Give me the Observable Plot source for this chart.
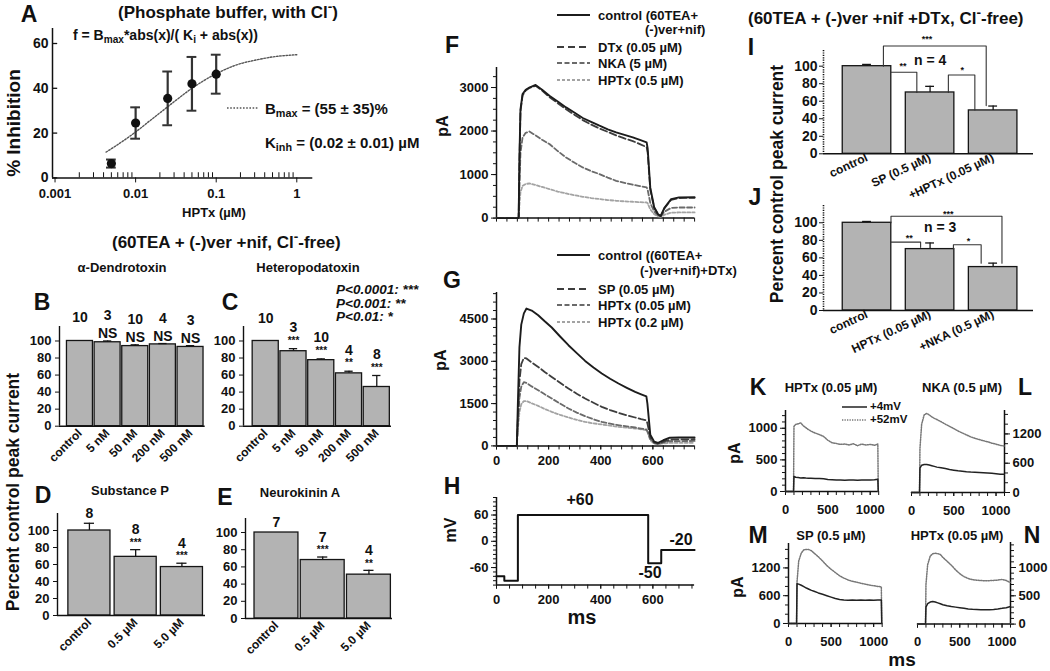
<!DOCTYPE html>
<html>
<head>
<meta charset="utf-8">
<script src="https://cdn.jsdelivr.net/npm/d3@7"></script>
<script src="https://cdn.jsdelivr.net/npm/@observablehq/plot@0.6"></script>
<style>
html,body{margin:0;padding:0;background:#fff;}
#fig{position:relative;width:1050px;height:671px;overflow:hidden;background:#fff;
 font-family:"Liberation Sans",Arial,Helvetica,sans-serif;font-weight:bold;color:#111;}
.t{position:absolute;white-space:nowrap;line-height:1;}
.t sub{font-size:0.72em;vertical-align:-0.28em;line-height:0;}
.t sup{font-size:0.8em;vertical-align:0.5em;line-height:0;}
</style>
</head>
<body>
<div id="fig"></div>
<script>
// ======================= DATA =======================
// Panel A : % inhibition vs HPTx concentration
const A_conc = [0.005, 0.01, 0.025, 0.05, 0.1];
const A_inhibition = [6.4, 24.5, 35.5, 42, 46.3];
const A_sem = [1.8, 7, 12, 12, 8.7];
const A_fitConc = [0.0043, 0.007, 0.01, 0.015, 0.02, 0.03, 0.05, 0.1, 0.2, 0.3, 0.5, 1];
const A_fitInh = [11.5, 16.5, 20.5, 25.5, 29, 34, 40, 46.5, 51, 52.5, 54, 55];
const A_xTicks = [0.001, 0.01, 0.1, 1];
const A_yTicks = [0, 20, 40, 60];

// Panels B-E : percent control peak current
const BC_cats = ["control", "5 nM", "50 nM", "200 nM", "500 nM"];
const B_pct = [100, 98.5, 94, 96, 93];
const B_sem = [0, 1.5, 1.5, 1, 1.5];
const B_n = ["10", "3", "10", "4", "3"];
const B_sig = ["", "NS", "NS", "NS", "NS"];
const C_pct = [100, 88, 77.5, 62, 46];
const C_sem = [0, 3, 1.5, 2.5, 13.5];
const C_n = ["10", "3", "10", "4", "8"];
const C_sig = ["", "***", "***", "**", "***"];
const DE_cats = ["control", "0.5 µM", "5.0 µM"];
const D_pct = [100, 69, 57];
const D_sem = [8.5, 8.5, 4.5];
const D_n = ["8", "8", "4"];
const D_sig = ["", "***", "***"];
const E_pct = [100, 68, 51];
const E_sem = [0, 3.5, 5];
const E_n = ["7", "7", "4"];
const E_sig = ["", "***", "**"];
const pctTicks = [0, 20, 40, 60, 80, 100];
const pValueKey = ["P<0.0001: ***", "P<0.001: **", "P<0.01: *"];

// Panels I, J
const I_cats = ["control", "SP (0.5 µM)", "+HPTx (0.05 µM)"];
const I_pct = [100, 70, 49.5];
const I_sem = [2, 7, 5];
const J_cats = ["control", "HPTx (0.05 µM)", "+NKA (0.5 µM)"];
const J_pct = [100, 70, 49.5];
const J_sem = [1.5, 7, 4.5];

// Panel F : current traces (pA) vs time (ms)
const F_t = [0, 85, 88, 92, 100, 112, 126, 150, 175, 203, 235, 267, 300, 331, 363, 395, 427, 459, 491, 523, 550, 576, 580, 590, 605, 620, 630, 645, 670, 700, 760];
const F_control = [0, 0, 1400, 2500, 2850, 2950, 3000, 3060, 2950, 2810, 2680, 2543, 2420, 2300, 2210, 2122, 2040, 1968, 1910, 1853, 1795, 1740, 1600, 700, 250, 90, 50, 244, 437, 475, 480];
const F_DTx = [0, 0, 1300, 2450, 2820, 2930, 2990, 3040, 2930, 2780, 2640, 2500, 2370, 2250, 2150, 2060, 1980, 1900, 1830, 1770, 1700, 1630, 1500, 650, 230, 80, 45, 230, 420, 460, 465];
const F_NKA = [0, 0, 700, 1500, 1850, 1960, 1990, 1900, 1800, 1701, 1540, 1393, 1270, 1163, 1080, 1011, 930, 857, 810, 766, 735, 704, 650, 350, 150, 60, 40, 150, 235, 244, 244];
const F_HPTx = [0, 0, 300, 600, 740, 785, 795, 760, 715, 667, 610, 566, 525, 490, 460, 437, 415, 398, 385, 375, 365, 359, 340, 200, 90, 40, 30, 80, 125, 130, 130];

// Panel G
const G_t = [0, 78, 82, 88, 95, 105, 115, 135, 160, 185, 212, 244, 276, 308, 340, 372, 404, 436, 468, 500, 532, 555, 575, 579, 590, 605, 620, 640, 665, 700, 760];
const G_control = [0, 0, 1500, 3500, 4300, 4700, 4870, 4800, 4635, 4420, 4199, 3880, 3571, 3290, 3014, 2780, 2567, 2380, 2213, 2060, 1915, 1830, 1760, 1500, 400, 150, 110, 200, 290, 300, 300];
const G_SP = [0, 0, 1000, 2300, 2900, 3120, 3100, 2960, 2801, 2620, 2447, 2240, 2035, 1850, 1681, 1530, 1383, 1270, 1170, 1085, 1007, 950, 905, 800, 300, 120, 80, 150, 220, 230, 235];
const G_HPTx005 = [0, 0, 800, 1700, 2100, 2260, 2230, 2110, 1975, 1830, 1681, 1500, 1326, 1180, 1053, 945, 851, 790, 734, 690, 652, 615, 582, 520, 250, 100, 70, 120, 165, 170, 175];
const G_HPTx02 = [0, 0, 600, 1200, 1480, 1590, 1590, 1510, 1418, 1310, 1206, 1100, 1007, 925, 851, 800, 759, 715, 674, 645, 617, 590, 560, 500, 200, 80, 60, 90, 105, 110, 110];

// Panel H : voltage protocol
const H_t = [0, 30, 82, 582, 632, 760];
const H_mV = [-80, -90, 60, -50, -20, -20];

// Panels K-N : +4 mV and +52 mV traces
const KN_t = [0, 95, 100, 120, 150, 180, 210, 240, 270, 300, 350, 400, 450, 500, 550, 600, 650, 700, 750, 800, 850, 900, 950, 1000, 1050, 1090, 1095];
const K_p4 = [0, 0, 240, 225, 220, 215, 218, 212, 210, 208, 205, 207, 200, 190, 185, 180, 182, 178, 180, 182, 178, 180, 182, 180, 185, 195, 0];
const K_p52 = [0, 0, 1030, 1060, 1070, 1085, 1040, 1010, 980, 955, 925, 900, 870, 810, 770, 760, 745, 750, 735, 755, 725, 750, 735, 745, 730, 750, 0];
const L_p4 = [0, 0, 500, 560, 575, 575, 565, 550, 535, 520, 505, 490, 470, 458, 445, 435, 425, 418, 415, 410, 405, 400, 392, 385, 375, 372, 372];
const L_p52 = [0, 0, 900, 1400, 1590, 1620, 1590, 1550, 1520, 1495, 1450, 1400, 1355, 1310, 1260, 1220, 1180, 1140, 1110, 1085, 1060, 1040, 1010, 990, 965, 955, 955];
const M_p4 = [0, 0, 860, 850, 825, 795, 765, 740, 715, 695, 660, 630, 600, 570, 540, 520, 505, 500, 505, 500, 505, 500, 505, 500, 505, 505, 0];
const M_p52 = [0, 0, 900, 1350, 1520, 1590, 1600, 1595, 1570, 1520, 1440, 1350, 1250, 1170, 1100, 1030, 980, 940, 910, 890, 870, 850, 830, 815, 800, 790, 0];
const N_p4 = [0, 0, 300, 360, 390, 400, 390, 375, 360, 343, 325, 310, 300, 290, 280, 268, 262, 258, 255, 253, 255, 260, 268, 278, 290, 305, 305];
const N_p52 = [0, 0, 700, 1050, 1200, 1245, 1250, 1245, 1230, 1180, 1110, 1040, 960, 890, 840, 805, 785, 775, 770, 765, 768, 772, 778, 790, 770, 740, 740];

// ======================= HELPERS =======================
const FONT = '"Liberation Sans", Arial, Helvetica, sans-serif';
const fig = document.getElementById("fig");
const plain = d => String(d);

function txt(html, x, y, o = {}) {
  const d = document.createElement("div");
  d.className = "t";
  d.innerHTML = html;
  d.style.fontSize = (o.size || 13) + "px";
  if (o.italic) d.style.fontStyle = "italic";
  d.style.left = x + "px";
  d.style.top = y + "px";
  const ax = o.anchor === "start" ? "0%" : o.anchor === "end" ? "-100%" : "-50%";
  d.style.transform = `translate(${ax},-50%)` + (o.rotate ? ` rotate(${o.rotate}deg)` : "");
  fig.appendChild(d);
}
function swatch(x1, x2, y, color, dash, w) {
  const d = document.createElement("div");
  d.style.position = "absolute";
  d.style.left = x1 + "px";
  d.style.top = (y - 3) + "px";
  const L = x2 - x1;
  d.innerHTML = `<svg width="${L}" height="6" style="display:block"><line x1="0" x2="${L}" y1="3" y2="3" stroke="${color}" stroke-width="${w || 1.7}" ${dash ? `stroke-dasharray="${dash}"` : ""}/></svg>`;
  fig.appendChild(d);
}
function panel(box, m, fs, opts) {
  const [mt, mr, mb, ml] = m;
  const el = Plot.plot({
    width: box.x1 - box.x0 + ml + mr,
    height: box.y1 - box.y0 + mt + mb,
    marginTop: mt, marginRight: mr, marginBottom: mb, marginLeft: ml,
    style: {background: "none", overflow: "visible", fontFamily: FONT, fontWeight: "bold", fontSize: fs + "px", color: "#111"},
    ...opts
  });
  el.style.position = "absolute";
  el.style.left = (box.x0 - ml) + "px";
  el.style.top = (box.y0 - mt) + "px";
  el.style.maxWidth = "none";
  fig.appendChild(el);
  return el;
}

function bars(o) {
  const rows = o.pct.map((v, i) => ({i, v, e: o.sem[i], top: v + o.sem[i], n: o.n ? o.n[i] : "", s: o.sig ? o.sig[i] : ""}));
  const hw = o.w / 2, eb = rows.filter(d => d.e > 0);
  const marks = [
    Plot.rectY(rows, {x1: d => d.i - hw, x2: d => d.i + hw, y1: 0, y2: "v", fill: "#b3b3b3", stroke: "#151515", strokeWidth: 1.3}),
    Plot.ruleX(eb, {x: "i", y1: "v", y2: "top", stroke: "#151515", strokeWidth: 1.3}),
    Plot.ruleY(eb, {y: "top", x1: d => d.i - o.cap, x2: d => d.i + o.cap, stroke: "#151515", strokeWidth: 1.3}),
    Plot.ruleX([o.xDom[0]], {stroke: "#111", strokeWidth: o.yDash ? 1.6 : 1.4, strokeDasharray: o.yDash || null}),
    Plot.ruleY([0], {stroke: "#111", strokeWidth: 1.5}),
    Plot.axisY({ticks: pctTicks, tickSize: 4, tickPadding: o.yPad ?? 4, label: null}),
    Plot.axisX({ticks: rows.map(d => d.i), tickFormat: i => o.cats[i], tickRotate: o.rot, tickSize: 0, tickPadding: o.catPad, label: null, fontSize: o.catSize})
  ];
  if (o.n) {
    const withS = rows.filter(d => d.s), noS = rows.filter(d => !d.s);
    marks.push(Plot.text(withS, {x: "i", y: "top", text: "n", dy: o.nDy, fontSize: 14}));
    marks.push(Plot.text(noS, {x: "i", y: "top", text: "n", dy: o.nDy0, fontSize: 14}));
    marks.push(Plot.text(withS, {x: "i", y: "top", text: "s", dy: o.sDy, fontSize: o.sSize}));
  }
  return panel(o.box, o.m || [5, 5, 60, 40], o.fs || 13, {
    x: {domain: o.xDom}, y: {domain: [0, o.yMax]},
    marks: marks.concat(o.extra || [])
  });
}

function traces(o) {
  const marks = [
    Plot.ruleX([o.yRight ? o.xDom[1] : o.xDom[0]], {stroke: "#111", strokeWidth: 1.5}),
    Plot.ruleY([o.yDom[0]], {stroke: "#111", strokeWidth: 1.5}),
    Plot.axisY({anchor: o.yRight ? "right" : "left", ticks: o.yTicks, tickFormat: plain, tickSize: 5, tickPadding: 3, label: null}),
    Plot.axisY({anchor: o.yRight ? "right" : "left", ticks: o.yMinor, tickSize: 3, tickFormat: () => "", label: null}),
    Plot.axisX({ticks: o.xMinor, tickSize: 4, tickFormat: () => "", label: null})
  ];
  if (o.xLabels) marks.push(Plot.axisX({ticks: o.xLabels, tickFormat: plain, tickSize: 4, tickPadding: o.xPad, label: null}));
  for (const s of o.series) {
    marks.push(Plot.line(o.t.map((t, i) => ({t, v: s.v[i]})), {
      x: "t", y: "v", stroke: s.stroke, strokeWidth: s.w || 1.6, strokeDasharray: s.dash || null, strokeLinejoin: "round"
    }));
  }
  return panel(o.box, o.yRight ? [5, 45, 30, 5] : [5, 5, 30, 45], o.fs || 13, {
    x: {domain: o.xDom}, y: {domain: o.yDom}, marks
  });
}

// ======================= PANEL A =======================
{
  const pts = A_conc.map((x, i) => ({x, y: A_inhibition[i], e: A_sem[i]}));
  const fit = A_fitConc.map((x, i) => ({x, y: A_fitInh[i]}));
  const minors = [];
  for (const dec of [0.001, 0.01, 0.1]) for (let k = 2; k <= 9; k++) minors.push(dec * k);
  const x0 = 0.00093;
  panel({x0: 51.7, x1: 312, y0: 28.3, y1: 177.7}, [5, 5, 30, 40], 13, {
    x: {type: "log", domain: [x0, 1.58]},
    y: {domain: [0, 66.7]},
    marks: [
      Plot.ruleX([x0], {stroke: "#111", strokeWidth: 1.5}),
      Plot.ruleY([0], {stroke: "#111", strokeWidth: 1.5}),
      Plot.axisY({ticks: A_yTicks, tickSize: 0, tickPadding: 4, label: null, fontSize: 14}),
      Plot.ruleY(A_yTicks, {x1: x0, x2: x0 * 1.16, stroke: "#111", strokeWidth: 1.3}),
      Plot.axisX({ticks: A_xTicks, tickFormat: plain, tickSize: 5, tickPadding: 6, label: null}),
      Plot.ruleX(minors, {y1: 0, y2: 2.3, stroke: "#111", strokeWidth: 1}),
      Plot.line(fit, {x: "x", y: "y", stroke: "#555", strokeWidth: 1.4, strokeDasharray: "1.6,1.6", curve: "monotone-x"}),
      Plot.ruleX(pts, {x: "x", y1: d => d.y - d.e, y2: d => d.y + d.e, stroke: "#333", strokeWidth: 2.2}),
      Plot.ruleY(pts, {y: d => d.y + d.e, x1: d => d.x / 1.15, x2: d => d.x * 1.15, stroke: "#333", strokeWidth: 2}),
      Plot.ruleY(pts, {y: d => d.y - d.e, x1: d => d.x / 1.15, x2: d => d.x * 1.15, stroke: "#333", strokeWidth: 2}),
      Plot.dot(pts, {x: "x", y: "y", r: 4.6, fill: "#111", stroke: "none"})
    ]
  });
  txt("A", 29, 14, {size: 23});
  txt("(Phosphate buffer, with Cl<sup>-</sup>)", 118, 12, {size: 17, anchor: "start"});
  txt("f = B<sub>max</sub>*abs(x)/( K<sub>i</sub> + abs(x))", 73, 35, {size: 14, anchor: "start"});
  swatch(227, 258, 107.5, "#555", "1.6,1.6", 1.4);
  txt("B<sub>max</sub> = (55 ± 35)%", 265, 108, {size: 15, anchor: "start"});
  txt("K<sub>inh</sub> = (0.02 ± 0.01) µM", 265, 142, {size: 15, anchor: "start"});
  txt("HPTx (µM)", 214, 212, {size: 13});
  txt("% Inhibition", 13, 123, {size: 19, rotate: -90});
}

// ======================= PANELS B-E =======================
txt("(60TEA + (-)ver +nif, Cl<sup>-</sup>-free)", 112, 242, {size: 17, anchor: "start"});
txt("α-Dendrotoxin", 122, 267, {size: 13});
txt("Heteropodatoxin", 308, 267, {size: 13});
txt("B", 42, 302, {size: 23});
txt("C", 230, 302, {size: 23});
pValueKey.forEach((s, i) => txt(s, 336, [290, 303.5, 317][i], {size: 13.5, italic: true, anchor: "start"}));

bars({box: {x0: 59.3, x1: 205, y0: 326, y1: 425.7}, xDom: [-0.74, 4.53], yMax: 117,
  pct: B_pct, sem: B_sem, n: B_n, sig: B_sig, cats: BC_cats, w: 0.94, cap: 0.15,
  rot: -45, catPad: 5, catSize: 12, nDy: -25, nDy0: -23, sDy: -7, sSize: 14});
bars({box: {x0: 243, x1: 391, y0: 326, y1: 425.7}, xDom: [-0.8, 4.53], yMax: 117,
  pct: C_pct, sem: C_sem, n: C_n, sig: C_sig, cats: BC_cats, w: 0.94, cap: 0.15,
  rot: -45, catPad: 5, catSize: 12, nDy: -21, nDy0: -22, sDy: -8, sSize: 10});

txt("D", 43, 495, {size: 23});
txt("Substance P", 130, 490, {size: 13});
txt("E", 225, 497, {size: 23});
txt("Neurokinin A", 300, 492, {size: 13});
bars({box: {x0: 57, x1: 205, y0: 513, y1: 615}, xDom: [-0.69, 2.51], yMax: 120,
  pct: D_pct, sem: D_sem, n: D_n, sig: D_sig, cats: DE_cats, w: 0.91, cap: 0.11,
  rot: -45, catPad: 5, catSize: 12, nDy: -20, nDy0: -10, sDy: -7, sSize: 10});
bars({box: {x0: 245, x1: 392, y0: 518, y1: 618}, xDom: [-0.67, 2.51], yMax: 116.3,
  pct: E_pct, sem: E_sem, n: E_n, sig: E_sig, cats: DE_cats, w: 0.95, cap: 0.11,
  rot: -45, catPad: 5, catSize: 12, nDy: -20, nDy0: -10, sDy: -7, sSize: 10});
txt("Percent control peak current", 14, 492, {size: 17.5, rotate: -90});

// ======================= PANEL F =======================
const msMinor = d3.range(0, 761, 40);
traces({box: {x0: 495.5, x1: 693.6, y0: 66.7, y1: 217.3}, xDom: [0, 760], yDom: [0, 3460], t: F_t,
  yTicks: [0, 1000, 2000, 3000], yMinor: d3.range(0, 3460, 250), xMinor: msMinor,
  series: [
    {v: F_HPTx, stroke: "#a3a3a3", dash: "3,2", w: 1.8},
    {v: F_NKA, stroke: "#6a6a6a", dash: "5,2.5", w: 1.8},
    {v: F_DTx, stroke: "#3d3d3d", dash: "7,3", w: 1.8},
    {v: F_control, stroke: "#1c1c1c", w: 1.9}
  ]});
txt("F", 452, 45, {size: 23});
txt("pA", 443, 126, {size: 16, rotate: -90});
swatch(557, 590, 15, "#1c1c1c", null, 1.9);
txt("control (60TEA+", 598, 15, {size: 13, anchor: "start"});
txt("(-)ver+nif)", 645, 29, {size: 13, anchor: "start"});
swatch(557, 590, 47, "#3d3d3d", "7,4", 1.8);
txt("DTx (0.05 µM)", 598, 47, {size: 13, anchor: "start"});
swatch(557, 590, 62.5, "#6a6a6a", "5,2.5", 1.8);
txt("NKA (5 µM)", 598, 62.5, {size: 13, anchor: "start"});
swatch(557, 590, 80, "#a3a3a3", "3,2", 1.8);
txt("HPTx (0.5 µM)", 598, 80, {size: 13, anchor: "start"});

// ======================= PANEL G =======================
traces({box: {x0: 495.5, x1: 693.6, y0: 292.3, y1: 445.7}, xDom: [0, 760], yDom: [0, 5440], t: G_t,
  yTicks: [0, 1500, 3000, 4500], yMinor: d3.range(0, 5440, 300), xMinor: msMinor,
  xLabels: [0, 200, 400, 600], xPad: 6,
  series: [
    {v: G_HPTx02, stroke: "#a3a3a3", dash: "3,2", w: 1.8},
    {v: G_HPTx005, stroke: "#6a6a6a", dash: "5,2.5", w: 1.8},
    {v: G_SP, stroke: "#3d3d3d", dash: "7,3", w: 1.8},
    {v: G_control, stroke: "#1c1c1c", w: 1.9}
  ]});
txt("G", 452, 280, {size: 23});
txt("pA", 441, 360, {size: 16, rotate: -90});
swatch(557, 590, 255, "#1c1c1c", null, 1.9);
txt("control ((60TEA+", 598, 255, {size: 13, anchor: "start"});
txt("(-)ver+nif)+DTx)", 640, 270, {size: 13, anchor: "start"});
swatch(557, 590, 288.5, "#3d3d3d", "7,4", 1.8);
txt("SP (0.05 µM)", 598, 288.5, {size: 13, anchor: "start"});
swatch(557, 590, 305, "#6a6a6a", "5,2.5", 1.8);
txt("HPTx (0.05 µM)", 598, 305, {size: 13, anchor: "start"});
swatch(557, 590, 321.5, "#a3a3a3", "3,2", 1.8);
txt("HPTx (0.2 µM)", 598, 321.5, {size: 13, anchor: "start"});

// ======================= PANEL H =======================
traces({box: {x0: 495.5, x1: 693.6, y0: 496.7, y1: 584.3}, xDom: [0, 760], yDom: [-100, 100], t: H_t,
  yTicks: [-60, 0, 60], yMinor: d3.range(-100, 101, 10), xMinor: d3.range(0, 761, 50),
  xLabels: [0, 200, 400, 600], xPad: 6,
  series: [{v: H_mV, stroke: "none"}]});
panel({x0: 495.5, x1: 693.6, y0: 496.7, y1: 584.3}, [5, 5, 5, 5], 13, {
  x: {domain: [0, 760], axis: null}, y: {domain: [-100, 100], axis: null},
  marks: [Plot.line(H_t.map((t, i) => ({t, v: H_mV[i]})), {x: "t", y: "v", curve: "step-after", stroke: "#111", strokeWidth: 2})]
});
txt("H", 452, 486, {size: 23});
txt("mV", 451, 530, {size: 16, rotate: -90});
txt("ms", 582, 617, {size: 20});
txt("+60", 580, 500, {size: 16});
txt("-50", 650, 573, {size: 16});
txt("-20", 681, 540, {size: 16});

// ======================= PANELS I, J =======================
txt("(60TEA + (-)ver +nif +DTx, Cl<sup>-</sup>-free)", 748, 18, {size: 17, anchor: "start"});
txt("I", 751, 47, {size: 23});
txt("J", 755, 197, {size: 23});
txt("Percent control peak current", 778, 184, {size: 17.5, rotate: -90});
const brk = {stroke: "#333", strokeWidth: 1.1};
bars({box: {x0: 823, x1: 1033, y0: 50, y1: 153.3}, xDom: [-0.69, 2.64], yMax: 117.9,
  pct: I_pct, sem: I_sem, cats: I_cats, w: 0.77, cap: 0.07, rot: -25, catPad: 3, catSize: 12,
  fs: 14, yPad: 2, yDash: "1.2,1.2", m: [25, 5, 50, 40],
  extra: [
    Plot.line([[0.26, 100], [0.26, 123], [1.89, 123], [1.89, 55]], brk),
    Plot.line([[0.38, 93], [0.79, 93], [0.79, 70]], brk),
    Plot.line([[1.29, 70], [1.29, 90], [1.71, 90], [1.71, 50]], brk),
    Plot.text(["***"], {x: 0.95, y: 131, fontSize: 9}),
    Plot.text(["**"], {x: 0.57, y: 100, fontSize: 9}),
    Plot.text(["*"], {x: 1.51, y: 96, fontSize: 9}),
    Plot.text(["n = 4"], {x: 1.0, y: 106, fontSize: 14})
  ]});
bars({box: {x0: 823, x1: 1033, y0: 205, y1: 310}, xDom: [-0.69, 2.64], yMax: 119.7,
  pct: J_pct, sem: J_sem, cats: J_cats, w: 0.77, cap: 0.07, rot: -25, catPad: 3, catSize: 12,
  fs: 14, yPad: 2, yDash: "1.2,1.2", m: [15, 5, 50, 40],
  extra: [
    Plot.line([[0.38, 100], [0.38, 107.5], [2.14, 107.5], [2.14, 54]], brk),
    Plot.line([[0.38, 78], [0.85, 78], [0.85, 72]], brk),
    Plot.line([[1.37, 70], [1.37, 75], [1.81, 75], [1.81, 54]], brk),
    Plot.text(["***"], {x: 1.29, y: 110, fontSize: 9}),
    Plot.text(["**"], {x: 0.67, y: 82, fontSize: 9}),
    Plot.text(["*"], {x: 1.61, y: 79, fontSize: 9}),
    Plot.text(["n = 3"], {x: 1.16, y: 95, fontSize: 14})
  ]});

// ======================= PANELS K-N =======================
const knMinor = d3.range(0, 1101, 100);
const solid = v => ({v, stroke: "#222", w: 1.5});
const dotted = v => ({v, stroke: "#777", dash: "1.3,1.2", w: 1.5});
traces({box: {x0: 784.5, x1: 877.7, y0: 410, y1: 491}, xDom: [0, 1100], yDom: [0, 1281], t: KN_t,
  yTicks: [0, 500, 1000], yMinor: d3.range(0, 1281, 100), xMinor: knMinor, xLabels: [0, 500, 1000], xPad: 9,
  series: [dotted(K_p52), solid(K_p4)]});
traces({box: {x0: 911, x1: 1004, y0: 410, y1: 492}, xDom: [0, 1100], yDom: [0, 1680], t: KN_t, yRight: true,
  yTicks: [0, 600, 1200], yMinor: d3.range(0, 1680, 200), xMinor: knMinor, xLabels: [0, 500, 1000], xPad: 9,
  series: [dotted(L_p52), solid(L_p4)]});
traces({box: {x0: 788.3, x1: 882, y0: 543.3, y1: 623.3}, xDom: [0, 1100], yDom: [0, 1727], t: KN_t,
  yTicks: [0, 600, 1200], yMinor: d3.range(0, 1727, 200), xMinor: knMinor, xLabels: [0, 500, 1000], xPad: 9,
  series: [dotted(M_p52), solid(M_p4)]});
traces({box: {x0: 917, x1: 1010, y0: 541.7, y1: 623.3}, xDom: [0, 1100], yDom: [0, 1442], t: KN_t, yRight: true,
  yTicks: [0, 500, 1000], yMinor: d3.range(0, 1442, 100), xMinor: knMinor, xLabels: [0, 500, 1000], xPad: 9,
  series: [dotted(N_p52), solid(N_p4)]});
txt("K", 758, 387, {size: 23});
txt("HPTx (0.05 µM)", 831, 387, {size: 13});
txt("NKA (0.5 µM)", 962, 387, {size: 13});
txt("L", 1025, 387, {size: 23});
txt("M", 758, 535, {size: 23});
txt("SP (0.5 µM)", 831, 535, {size: 13});
txt("HPTx (0.05 µM)", 957, 535, {size: 13});
txt("N", 1032, 535, {size: 23});
swatch(842, 867, 406.5, "#222", null, 1.5);
txt("+4mV", 870, 406.5, {size: 11.5, anchor: "start"});
swatch(842, 867, 419.5, "#777", "1.3,1.2", 1.5);
txt("+52mV", 870, 419.5, {size: 11.5, anchor: "start"});
txt("pA", 735, 453, {size: 16, rotate: -90});
txt("pA", 738, 587, {size: 16, rotate: -90});
txt("ms", 902, 659, {size: 19});
</script>
</body>
</html>
